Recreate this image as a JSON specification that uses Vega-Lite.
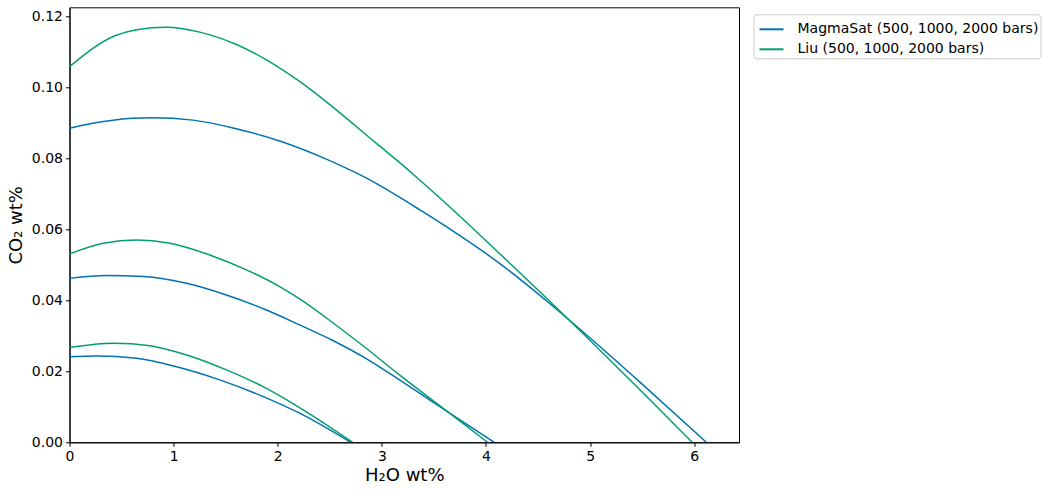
{
  "$schema": "https://vega.github.io/schema/vega-lite/v6.json",
  "autosize": {"type": "none"},
  "padding": {"left": 69.5, "top": 7.3, "right": 312, "bottom": 51.7},
  "width": 669.5,
  "height": 435,
  "background": "white",
  "config": {
    "font": "DejaVu Sans",
    "view": {"stroke": "black", "strokeWidth": 1},
    "axis": {
      "domainColor": "black", "domainWidth": 1,
      "tickColor": "black", "tickWidth": 1, "tickSize": 4,
      "labelColor": "black", "labelFontSize": 14, "labelFont": "DejaVu Sans",
      "titleColor": "black", "titleFontSize": 18, "titleFont": "DejaVu Sans", "titleFontWeight": "normal",
      "grid": false, "labelPadding": 3, "labelFlush": false
    }
  },
  "datasets": {
    "curves": [
      {"model": "MagmaSat (500, 1000, 2000 bars)", "P": 2000, "h2o": 0, "co2": 0.0885},
      {"model": "MagmaSat (500, 1000, 2000 bars)", "P": 2000, "h2o": 0.2, "co2": 0.0898},
      {"model": "MagmaSat (500, 1000, 2000 bars)", "P": 2000, "h2o": 0.4, "co2": 0.0907},
      {"model": "MagmaSat (500, 1000, 2000 bars)", "P": 2000, "h2o": 0.6, "co2": 0.0913},
      {"model": "MagmaSat (500, 1000, 2000 bars)", "P": 2000, "h2o": 0.8, "co2": 0.0915},
      {"model": "MagmaSat (500, 1000, 2000 bars)", "P": 2000, "h2o": 1.187, "co2": 0.0908},
      {"model": "MagmaSat (500, 1000, 2000 bars)", "P": 2000, "h2o": 1.571, "co2": 0.0886},
      {"model": "MagmaSat (500, 1000, 2000 bars)", "P": 2000, "h2o": 2.018, "co2": 0.0849},
      {"model": "MagmaSat (500, 1000, 2000 bars)", "P": 2000, "h2o": 2.466, "co2": 0.0798},
      {"model": "MagmaSat (500, 1000, 2000 bars)", "P": 2000, "h2o": 2.945, "co2": 0.0730},
      {"model": "MagmaSat (500, 1000, 2000 bars)", "P": 2000, "h2o": 3.169, "co2": 0.0691},
      {"model": "MagmaSat (500, 1000, 2000 bars)", "P": 2000, "h2o": 3.36, "co2": 0.0656},
      {"model": "MagmaSat (500, 1000, 2000 bars)", "P": 2000, "h2o": 3.648, "co2": 0.0602},
      {"model": "MagmaSat (500, 1000, 2000 bars)", "P": 2000, "h2o": 4.127, "co2": 0.0505},
      {"model": "MagmaSat (500, 1000, 2000 bars)", "P": 2000, "h2o": 4.6, "co2": 0.0394},
      {"model": "MagmaSat (500, 1000, 2000 bars)", "P": 2000, "h2o": 5.0, "co2": 0.0294},
      {"model": "MagmaSat (500, 1000, 2000 bars)", "P": 2000, "h2o": 5.5, "co2": 0.0164},
      {"model": "MagmaSat (500, 1000, 2000 bars)", "P": 2000, "h2o": 6.117, "co2": 0},
      {"model": "MagmaSat (500, 1000, 2000 bars)", "P": 1000, "h2o": 0, "co2": 0.0462},
      {"model": "MagmaSat (500, 1000, 2000 bars)", "P": 1000, "h2o": 0.357, "co2": 0.0470},
      {"model": "MagmaSat (500, 1000, 2000 bars)", "P": 1000, "h2o": 0.708, "co2": 0.0467},
      {"model": "MagmaSat (500, 1000, 2000 bars)", "P": 1000, "h2o": 1.124, "co2": 0.0448},
      {"model": "MagmaSat (500, 1000, 2000 bars)", "P": 1000, "h2o": 1.507, "co2": 0.0415},
      {"model": "MagmaSat (500, 1000, 2000 bars)", "P": 1000, "h2o": 1.891, "co2": 0.0373},
      {"model": "MagmaSat (500, 1000, 2000 bars)", "P": 1000, "h2o": 2.21, "co2": 0.0331},
      {"model": "MagmaSat (500, 1000, 2000 bars)", "P": 1000, "h2o": 2.529, "co2": 0.0287},
      {"model": "MagmaSat (500, 1000, 2000 bars)", "P": 1000, "h2o": 2.849, "co2": 0.0236},
      {"model": "MagmaSat (500, 1000, 2000 bars)", "P": 1000, "h2o": 3.169, "co2": 0.0176},
      {"model": "MagmaSat (500, 1000, 2000 bars)", "P": 1000, "h2o": 3.488, "co2": 0.0114},
      {"model": "MagmaSat (500, 1000, 2000 bars)", "P": 1000, "h2o": 3.776, "co2": 0.0058},
      {"model": "MagmaSat (500, 1000, 2000 bars)", "P": 1000, "h2o": 4.08, "co2": 0},
      {"model": "MagmaSat (500, 1000, 2000 bars)", "P": 500, "h2o": 0, "co2": 0.0241},
      {"model": "MagmaSat (500, 1000, 2000 bars)", "P": 500, "h2o": 0.26, "co2": 0.0243},
      {"model": "MagmaSat (500, 1000, 2000 bars)", "P": 500, "h2o": 0.644, "co2": 0.0237},
      {"model": "MagmaSat (500, 1000, 2000 bars)", "P": 500, "h2o": 1.028, "co2": 0.0213},
      {"model": "MagmaSat (500, 1000, 2000 bars)", "P": 500, "h2o": 1.443, "co2": 0.0176},
      {"model": "MagmaSat (500, 1000, 2000 bars)", "P": 500, "h2o": 1.826, "co2": 0.0133},
      {"model": "MagmaSat (500, 1000, 2000 bars)", "P": 500, "h2o": 2.21, "co2": 0.0082},
      {"model": "MagmaSat (500, 1000, 2000 bars)", "P": 500, "h2o": 2.70, "co2": 0},
      {"model": "Liu (500, 1000, 2000 bars)", "P": 2000, "h2o": 0, "co2": 0.1059},
      {"model": "Liu (500, 1000, 2000 bars)", "P": 2000, "h2o": 0.436, "co2": 0.1146},
      {"model": "Liu (500, 1000, 2000 bars)", "P": 2000, "h2o": 0.644, "co2": 0.1163},
      {"model": "Liu (500, 1000, 2000 bars)", "P": 2000, "h2o": 0.932, "co2": 0.1170},
      {"model": "Liu (500, 1000, 2000 bars)", "P": 2000, "h2o": 1.251, "co2": 0.1156},
      {"model": "Liu (500, 1000, 2000 bars)", "P": 2000, "h2o": 1.603, "co2": 0.1121},
      {"model": "Liu (500, 1000, 2000 bars)", "P": 2000, "h2o": 1.891, "co2": 0.1078},
      {"model": "Liu (500, 1000, 2000 bars)", "P": 2000, "h2o": 2.21, "co2": 0.1017},
      {"model": "Liu (500, 1000, 2000 bars)", "P": 2000, "h2o": 2.562, "co2": 0.0937},
      {"model": "Liu (500, 1000, 2000 bars)", "P": 2000, "h2o": 2.945, "co2": 0.0843},
      {"model": "Liu (500, 1000, 2000 bars)", "P": 2000, "h2o": 3.169, "co2": 0.0789},
      {"model": "Liu (500, 1000, 2000 bars)", "P": 2000, "h2o": 3.36, "co2": 0.0740},
      {"model": "Liu (500, 1000, 2000 bars)", "P": 2000, "h2o": 3.65, "co2": 0.0664},
      {"model": "Liu (500, 1000, 2000 bars)", "P": 2000, "h2o": 4.127, "co2": 0.0533},
      {"model": "Liu (500, 1000, 2000 bars)", "P": 2000, "h2o": 4.6, "co2": 0.0401},
      {"model": "Liu (500, 1000, 2000 bars)", "P": 2000, "h2o": 5.0, "co2": 0.0287},
      {"model": "Liu (500, 1000, 2000 bars)", "P": 2000, "h2o": 5.5, "co2": 0.0142},
      {"model": "Liu (500, 1000, 2000 bars)", "P": 2000, "h2o": 5.98, "co2": 0},
      {"model": "Liu (500, 1000, 2000 bars)", "P": 1000, "h2o": 0, "co2": 0.0531},
      {"model": "Liu (500, 1000, 2000 bars)", "P": 1000, "h2o": 0.324, "co2": 0.0561},
      {"model": "Liu (500, 1000, 2000 bars)", "P": 1000, "h2o": 0.644, "co2": 0.0570},
      {"model": "Liu (500, 1000, 2000 bars)", "P": 1000, "h2o": 0.964, "co2": 0.0561},
      {"model": "Liu (500, 1000, 2000 bars)", "P": 1000, "h2o": 1.347, "co2": 0.0528},
      {"model": "Liu (500, 1000, 2000 bars)", "P": 1000, "h2o": 1.699, "co2": 0.0486},
      {"model": "Liu (500, 1000, 2000 bars)", "P": 1000, "h2o": 2.018, "co2": 0.0439},
      {"model": "Liu (500, 1000, 2000 bars)", "P": 1000, "h2o": 2.21, "co2": 0.0404},
      {"model": "Liu (500, 1000, 2000 bars)", "P": 1000, "h2o": 2.529, "co2": 0.0337},
      {"model": "Liu (500, 1000, 2000 bars)", "P": 1000, "h2o": 2.849, "co2": 0.0265},
      {"model": "Liu (500, 1000, 2000 bars)", "P": 1000, "h2o": 3.169, "co2": 0.0190},
      {"model": "Liu (500, 1000, 2000 bars)", "P": 1000, "h2o": 3.488, "co2": 0.0118},
      {"model": "Liu (500, 1000, 2000 bars)", "P": 1000, "h2o": 3.776, "co2": 0.0054},
      {"model": "Liu (500, 1000, 2000 bars)", "P": 1000, "h2o": 4.015, "co2": 0},
      {"model": "Liu (500, 1000, 2000 bars)", "P": 500, "h2o": 0, "co2": 0.0267},
      {"model": "Liu (500, 1000, 2000 bars)", "P": 500, "h2o": 0.42, "co2": 0.0279},
      {"model": "Liu (500, 1000, 2000 bars)", "P": 500, "h2o": 0.772, "co2": 0.0272},
      {"model": "Liu (500, 1000, 2000 bars)", "P": 500, "h2o": 1.124, "co2": 0.0246},
      {"model": "Liu (500, 1000, 2000 bars)", "P": 500, "h2o": 1.507, "co2": 0.0204},
      {"model": "Liu (500, 1000, 2000 bars)", "P": 500, "h2o": 1.891, "co2": 0.0152},
      {"model": "Liu (500, 1000, 2000 bars)", "P": 500, "h2o": 2.274, "co2": 0.0086},
      {"model": "Liu (500, 1000, 2000 bars)", "P": 500, "h2o": 2.72, "co2": 0}
    ]
  },
  "data": {"name": "curves"},
  "mark": {"type": "line", "strokeWidth": 1.5, "clip": true, "interpolate": "monotone"},
  "encoding": {
    "x": {
      "field": "h2o", "type": "quantitative",
      "scale": {"domain": [0, 6.43], "nice": false, "zero": false},
      "axis": {"title": "H₂O wt%", "values": [0, 1, 2, 3, 4, 5, 6], "format": "d", "titlePadding": 3}
    },
    "y": {
      "field": "co2", "type": "quantitative",
      "scale": {"domain": [0, 0.1226], "nice": false, "zero": false},
      "axis": {"title": "CO₂ wt%", "values": [0, 0.02, 0.04, 0.06, 0.08, 0.1, 0.12], "format": ".2f", "titlePadding": 6}
    },
    "color": {
      "field": "model", "type": "nominal",
      "scale": {"domain": ["MagmaSat (500, 1000, 2000 bars)", "Liu (500, 1000, 2000 bars)"], "range": ["#0072B2", "#009E73"]},
      "legend": {
        "title": null, "orient": "none", "legendX": 684, "legendY": 7,
        "symbolType": "stroke", "symbolStrokeWidth": 2, "symbolSize": 576,
        "symbolOffset": 3, "labelOffset": 13, "rowPadding": -3, "padding": 2,
        "labelFontSize": 14, "labelColor": "black", "labelFont": "DejaVu Sans", "labelLimit": 400,
        "strokeColor": "#cccccc", "fillColor": "white", "cornerRadius": 3
      }
    },
    "detail": {"field": "P", "type": "nominal"}
  }
}
